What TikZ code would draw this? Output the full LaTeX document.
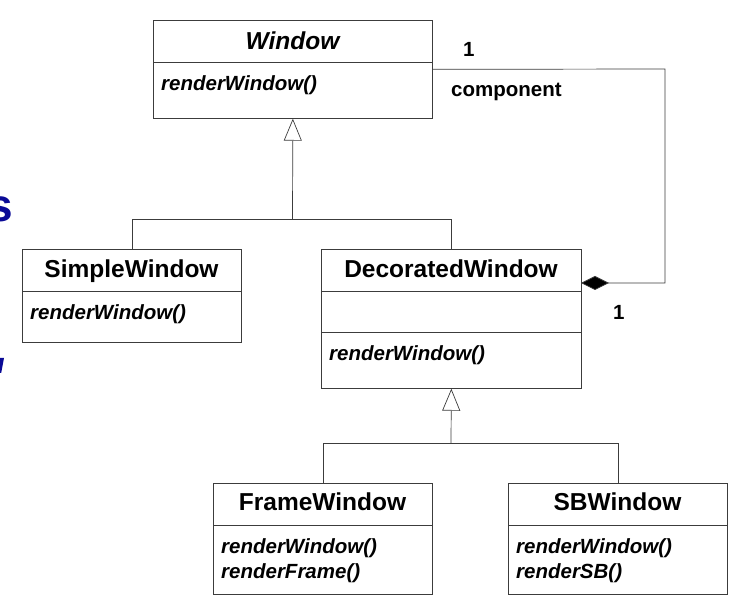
\documentclass[tikz,border=0pt]{standalone}
\usepackage{fontspec}
\setmainfont{Liberation Sans}
\usetikzlibrary{arrows.meta}
\definecolor{slideblue}{RGB}{10,10,150}
\definecolor{edgegray}{RGB}{60,60,60}
\tikzset{
  umlbox/.style={draw=edgegray, line width=0.7pt, rectangle, anchor=north west, inner sep=0pt},
  divider/.style={draw=edgegray, line width=0.7pt},
  classname/.style={anchor=base, inner sep=0pt, font=\fontsize{24.5}{28}\selectfont\bfseries},
  abstractname/.style={classname, font=\fontsize{24.5}{28}\selectfont\bfseries\itshape},
  method/.style={anchor=base west, inner sep=0pt, font=\fontsize{20.5}{25}\selectfont\bfseries\itshape},
  rolelabel/.style={anchor=base west, inner sep=0pt, font=\fontsize{20.5}{25}\selectfont\bfseries},
  link/.style={draw=edgegray, line width=0.7pt},
  inherit/.style={link, -{Triangle[open, length=22pt, width=18pt, fill=white]}},
  compose/.style={link, -{Diamond[length=28pt, width=14pt, fill=black]}}
}
\begin{document}
\begin{tikzpicture}[x=1pt, y=-1pt]
\useasboundingbox (0,0) rectangle (732,612);
\clip (0,0) rectangle (732,612);

% slide text running in from the left margin
\node[anchor=base east, inner sep=0pt, text=slideblue,
      font=\fontsize{46}{50}\selectfont\bfseries] (edgetext) at (13,222) {s};
\fill[slideblue] (0,358) -- (4,358) -- (1.2,373) -- (0,373) -- cycle;

% class boxes
\node[umlbox, minimum width=279pt, minimum height=98pt] (win) at (153,20) {};
\node[umlbox, minimum width=219pt, minimum height=93pt] (sw) at (22,249) {};
\node[umlbox, minimum width=260pt, minimum height=139pt] (dw) at (321,249) {};
\node[umlbox, minimum width=219pt, minimum height=111pt] (fw) at (213,483) {};
\node[umlbox, minimum width=219pt, minimum height=111pt] (sb) at (508,483) {};

% compartment dividers
\draw[divider] (153,62) -- (432,62);
\draw[divider] (22,291) -- (241,291);
\draw[divider] (321,291) -- (581,291);
\draw[divider] (321,332) -- (581,332);
\draw[divider] (213,525) -- (432,525);
\draw[divider] (508,525) -- (727,525);

% class names
\node[abstractname] (wintitle) at (292.5,50) {Window};
\node[classname] (swtitle) at (131.5,278) {SimpleWindow};
\node[classname] (dwtitle) at (451,278) {DecoratedWindow};
\node[classname] (fwtitle) at (322.5,511) {FrameWindow};
\node[classname] (sbtitle) at (617.5,511) {SBWindow};

% operations
\node[method] (winop) at (161,91) {renderWindow()};
\node[method] (swop) at (30,320) {renderWindow()};
\node[method] (dwop) at (329,361) {renderWindow()};
\node[method] (fwop1) at (221,554) {renderWindow()};
\node[method] (fwop2) at (221,579) {renderFrame()};
\node[method] (sbop1) at (516,554) {renderWindow()};
\node[method] (sbop2) at (516,579) {renderSB()};

% generalization of Window
\coordinate (j1) at (292.5,219);
\draw[link] (sw.north) |- (j1);
\draw[link] (dw.north) |- (j1);
\draw[inherit] (j1) -- (win.south);

% generalization of DecoratedWindow
\coordinate (j2) at (451,443);
\draw[link] (fw.north) |- (j2);
\draw[link] (sb.north) |- (j2);
\draw[inherit] (j2) -- (dw.south);

% composition: DecoratedWindow holds one Window component
\coordinate (bend) at (665,69);
\coordinate (dwport) at (581,283);
\draw[compose] (win.east) -- (bend) |- (dwport);

% multiplicities and role
\node[rolelabel] (multtop) at (463,57) {1};
\node[rolelabel] (role) at (451,97) {component};
\node[rolelabel] (multbot) at (613,320) {1};
\end{tikzpicture}
\end{document}
